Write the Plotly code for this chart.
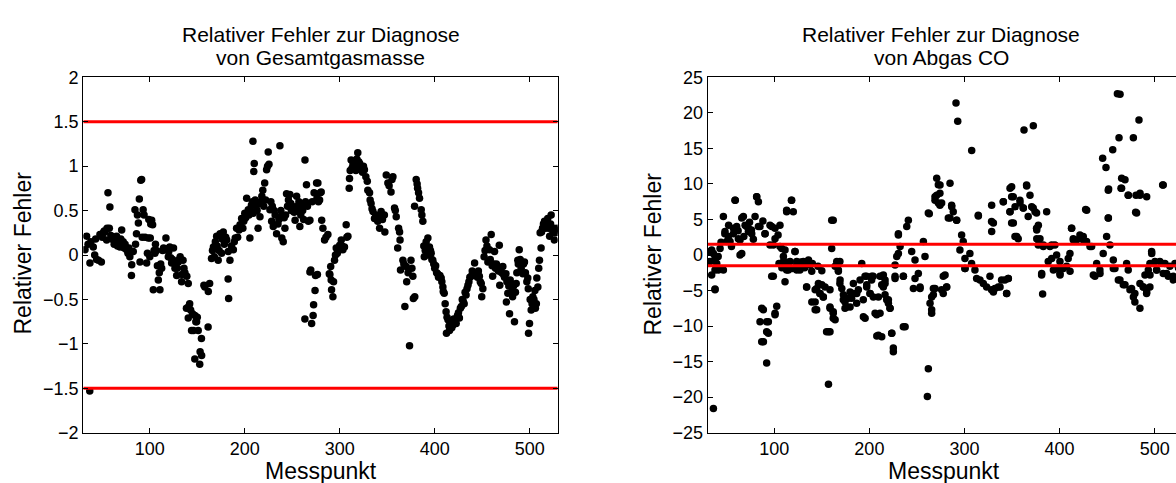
import plotly.graph_objects as go

# ---------------- data ----------------
gesamt_points = [
 (31.8,0.06),(33.5,0.21),(35,0.12),(36.8,-1.53),(37,-0.09),(38,0.15),(40.5,0.09),(42,0),(43,0.18),(44,-0.05),
 (46,-0.06),(47.5,0.23),(49,-0.08),(50,0.2),(51,0.25),(52,0.27),(53,0.26),(54.6,0.17),(55,0.3),(56,0.7),
 (57.4,0.3),(58,0.54),(59,0.22),(60,0.2),(61.6,0.17),(62.5,0.12),(63,0.2),(64,0.15),(65,0.21),(66,0.1),
 (67,0.14),(68.6,0.09),(69.5,0.18),(70.4,0.28),(71,0.12),(72,0.15),(73,0.08),(74,0.12),(75.6,0.06),(77,0.02),
 (78,0.08),(79,-0.02),(80.7,-0.23),(81,-0.11),(82.6,0.04),(84.4,0.51),(85,0.12),(86,0.24),(87,0.45),(88,0.36),
 (89,0.63),(89.7,-0.08),(90.5,0.84),(91.4,0.85),(92,0.2),(93,0.51),(94,0.45),(95,0.2),(96.7,-0.09),(97.5,0.02),
 (98.4,0.19),(99,0.4),(100,-0.02),(100.5,0.19),(101,0.35),(102,0.39),(103,0.34),(103.7,-0.39),(104.5,0.05),(105.4,0.02),
 (106,0.12),(107,0.05),(108,-0.12),(109,-0.28),(110,-0.2),(110.7,-0.39),(111.5,-0.1),(112.5,-0.15),(113.5,0.05),(114.5,0.08),
 (116,0.06),(117,0.19),(118,0.07),(119.5,-0.02),(120,0.04),(121,0.09),(122,-0.03),(123,-0.09),(124,-0.05),(125,0.08),
 (126.5,-0.15),(127,-0.1),(128.3,-0.23),(129,-0.15),(130,-0.08),(131,-0.05),(132,-0.02),(133.5,-0.3),(134,-0.22),(135,-0.06),
 (136,-0.15),(137,-0.2),(138.6,-0.6),(139,-0.24),(140.5,-0.32),(140.5,-0.71),(141,-0.58),(142,-0.55),(143,-0.62),(144,-0.85),
 (145,-0.66),(146,-0.85),(147.4,-1.17),(147.5,-0.68),(148.5,-0.75),(149.3,-0.75),(150,-0.7),(151,-0.85),(152.6,-1.23),(153,-1.09),
 (154.4,-0.94),(154.6,-1.13),(157,-0.34),(158,-0.36),(161.4,-0.81),(161.6,-0.41),(163,-0.32),(165,-0.04),(166,0.05),(167,0.09),
 (168,-0.02),(169,0.15),(170.4,0.21),(171,0.1),(172,-0.06),(173,0.05),(174,0.24),(175.6,0.02),(176,0.18),(177.4,0.26),
 (178.5,0.12),(180,0.2),(181,0.17),(182.5,-0.27),(182.6,0.04),(183,-0.49),(184.4,-0.06),(186,0.1),(188,0.06),(189,0.15),
 (190,0.19),(191.4,0.3),(192.5,0.2),(194,0.28),(195,0.34),(196.7,0.41),(198,0.3),(199,0.38),(200,0.47),(201,0.42),
 (202,0.64),(203.7,0.51),(204.5,0.45),(205.4,0.19),(206,0.5),(207,0.56),(208,0.6),(208.6,1.28),(209,0.47),(209.5,0.94),
 (210,1.03),(211,0.62),(212,0.55),(213,0.5),(214,0.3),(215,0.58),(216,0.43),(217,0.6),(218,0.66),(219,0.73),
 (220,0.55),(221,0.81),(222,0.62),(223,0.96),(224,1.0),(224.7,1.16),(225.5,1.02),(226.5,0.51),(227.5,0.6),(228.3,0.38),
 (229,0.55),(230,0.32),(231,0.5),(232,0.45),(233.5,0.24),(235,0.35),(236,0.4),(237,1.23),(237.5,0.43),(238,0.5),
 (239,0.19),(240.5,0.15),(241.5,0.42),(242.3,0.3),(243,0.45),(244,0.69),(245,0.55),(246,0.62),(247.5,0.68),(248.5,0.58),
 (249,0.5),(250,0.55),(251,0.53),(252,0.48),(253,0.39),(254.6,0.66),(255.5,0.55),(256.3,0.49),(257,0.6),(258,0.32),
 (259,0.45),(260,0.55),(261,0.5),(262,0.4),(263.4,1.07),(263.3,-0.72),(264,0.6),(265,0.79),(266,0.55),(267,0.38),
 (268.6,0.39),(268.6,-0.19),(269.5,-0.17),(270.4,-0.77),(271,0.6),(272,-0.68),(272.5,-0.56),(273,0.7),(274,-0.4),(274.5,-0.23),
 (275.6,0.81),(276,0.64),(276.5,-0.22),(277,0.81),(277.6,0.6),(278.8,0.62),(279.5,0.7),(280.5,0.71),(281,0.39),(282.3,0.3),
 (284,0.17),(285.5,0.2),(287.5,0.23),(289,-0.21),(289.6,-0.22),(290.5,-0.13),(291,-0.28),(291.4,-0.39),(292.8,-0.47),(293.5,-0.3),
 (294.5,-0.06),(295.5,0.0),(296.3,0.08),(297.5,0.02),(298.5,0.05),(300,0.11),(301.6,0.17),(302.5,0.1),(303.3,0.06),(305,0.09),
 (306.8,0.34),(307.5,0.2),(308.6,0.21),(310,0.75),(310.3,0.86),(311,0.95),(312,1.07),(313,0.98),(314,1.02),(315.6,1.0),
 (317,0.95),(318,1.08),(319,1.15),(320,1.05),(321,1.03),(322.6,0.98),(324,0.93),(325,1.0),(326,0.96),(327.5,0.88),
 (329,0.83),(329.6,0.73),(331.4,0.7),(332,0.62),(333,0.58),(334,0.52),(335,0.49),(336.6,0.41),(338,0.45),(340,0.38),
 (341,0.42),(342,0.3),(343.6,0.49),(345,0.4),(347,0.45),(347.5,0.26),(349,0.9),(350.7,0.81),(352,0.78),(354,0.71),
 (355,0.85),(356,0.88),(357.7,0.53),(358.5,0.5),(359.5,0.43),(361,0.08),(362,0.3),(363,0.26),(363.5,0.17),(364,-0.17),
 (366.5,-0.06),(367.5,-0.1),(368.6,-0.58),(370,-0.13),(370.5,-0.3),(372,-0.2),(373.5,-1.02),(375,-0.06),(376,-0.15),(377,-0.24),
 (377.5,-0.49),(378.8,0.55),(379,-0.47),(380.5,0.85),(381.5,0.8),(382,0.75),(383,0.7),(384,0.64),(385.8,0.51),(386.5,0.45),
 (387.5,0.38),(388.5,0.1),(389,-0.02),(390,0.05),(391,0.15),(392.8,0.19),(393,0.0),(394.5,0.09),(395.5,0.05),(396.3,0.02),
 (397,-0.05),(398,-0.06),(399,-0.1),(400,-0.15),(401,-0.12),(402,-0.2),(403,-0.21),(404,-0.25),(405.5,-0.23),(406.8,-0.26),
 (407.5,-0.3),(408.6,-0.36),(409,-0.41),(410,-0.43),(411,-0.55),(412,-0.64),(412.4,-0.88),(413,-0.7),(414,-0.73),(415,-0.8),
 (415.6,-0.85),(417,-0.78),(418,-0.82),(419,-0.79),(420,-0.72),(421,-0.75),(422.6,-0.77),(424,-0.68),(425,-0.65),(426,-0.71),
 (427,-0.6),(428,-0.58),(429,-0.5),(430,-0.52),(431,-0.55),(432,-0.42),(433,-0.45),(434,-0.38),(435,-0.34),(436,-0.3),
 (437,-0.25),(438.4,-0.24),(439.5,-0.18),(440.5,-0.2),(442,-0.09),(443.7,-0.21),(445,-0.25),(446,-0.18),(447,-0.24),(448,-0.3),
 (449,-0.32),(449.5,-0.47),(450.7,-0.38),(452,-0.02),(453,0.05),(454,0.17),(455,0.1),(456,-0.08),(457.7,0.06),(458.5,-0.05),
 (459.5,0.23),(460.5,-0.12),(461,-0.24),(462,-0.1),(463,0.04),(464,-0.15),(465,-0.1),(466.5,-0.13),(467,-0.18),(468,0.11),
 (468.5,-0.34),(469.5,-0.18),(470.5,-0.2),(471.7,-0.13),(472.5,-0.22),(473.5,-0.25),(475,-0.21),(475.5,-0.53),(476,-0.3),(477,-0.43),
 (478,-0.35),(478.8,-0.66),(479.5,-0.28),(480.5,-0.32),(481.5,-0.4),(482,-0.47),(483,-0.35),(484,-0.75),(485,-0.42),(485.8,-0.32),
 (486.5,-0.2),(487.5,-0.06),(488,-0.1),(489,0.06),(490,-0.05),(491,-0.15),(492.8,-0.21),(493.5,-0.1),(494.5,-0.08),(495.5,-0.2),
 (497,-0.3),(498,-0.26),(498.5,-0.38),(498.8,-0.88),(499.8,-0.77),(500.5,-0.5),(501.6,-0.62),(502.5,-0.55),(503.3,-0.47),(504.5,-0.5),
 (505.5,-0.4),(506,-0.6),(507,-0.55),(507.5,-0.26),(508.6,-0.36),(509.5,-0.15),(510.3,-0.06),(511,0.25),(512,0.08),(512.5,0.26),
 (513.5,0.3),(514.5,0.35),(515.6,0.38),(516.5,0.3),(517.5,0.33),(519,0.41),(520,0.3),(521,0.21),(522,0.35),(522.6,0.45),
 (523.5,0.3),(524.4,0.26),(525.5,0.3),(526,0.17),(527,0.25),(528,0.28),(529,0.3),
]

co_points = [
 (32.5,0.5),(36,0.2),(37.7,-0.7),(43,0.9),(41,-0.2),(46.5,5.4),(48,3.0),(51.7,2.6),(50,1.9),(55,1.2),
 (57,3.0),(59,7.7),(60.5,4.0),(64,2.1),(65.8,0.2),(67.5,5.4),(71,4.0),(72.8,3.3),(76,3.5),(79.8,5.4),
 (81.5,8.2),(83.3,7.5),(85,4.0),(90.3,3.0),(95.5,4.2),(99,1.4),(100.8,3.75),(106,4.2),(113,6.3),(118,7.7),
 (120,6.1),(107.8,0.9),(109.6,-0.2),(116.6,-0.9),(121.8,0.5),(123.6,-1.4),(130.6,-0.9),(136,-0.7),(137.8,-1.4),(162,4.9),
 (160.4,0.9),(164,-1.6),(169,-0.9),(192,-1.2),(197,-3.0),(204,-3.0),(214.7,-2.8),(227,-1.4),(230.5,2.8),(230.5,0.2),
 (36,-21.6),(37.7,-4.9),(34.2,-2.8),(37.7,-2.1),(46.5,-2.1),(39.5,-1.2),(85,-9.4),(86.8,-7.5),(88.6,-12.2),(92,-10.8),
 (93.8,-9.4),(92,-15.2),(97.3,-3.0),(100.8,-8.2),(102.6,-7.2),(111.3,-3.75),(113,-2.1),(123.6,-2.1),(134,-4.5),(139.5,-6.6),
 (143,-7.7),(144.6,-4.7),(148,-5.4),(150,-4.2),(151.6,-5.9),(155,-10.8),(158.6,-10.8),(157,-18.2),(158.6,-7.5),(162,-8.2),
 (164,-9.1),(167.4,-2.3),(169,-4.0),(172.6,-6.3),(174.4,-7.5),(178,-6.1),(179.7,-7.3),(183,-5.4),(186.6,-6.8),(188.4,-4.9),
 (193.6,-6.3),(195.5,-8.9),(197.2,-4.2),(200.7,-5.4),(202.4,-3.0),(206,-8.2),(207.8,-11.4),(209.5,-5.9),(211.2,-3.0),(214.7,-4.5),
 (216.5,-3.5),(218.2,-6.3),(221.7,-7.5),(223.5,-11.0),(225.2,-13.6),(227,-3.3),
 (34.2,0.7),(32.5,-0.9),(37.7,-0.2),(41.2,-2.1),(37.7,-4.8),(48.2,3.3),(53.5,1.9),(57,3.75),(58.7,7.7),(62.2,2.3),
 (64,0),(65.8,5.2),(69.3,4.2),(72.8,3.75),(76.3,3.0),(81.5,8.2),(83.3,4.0),(88.5,-7.7),(86.8,-12.2),(92,-9.4),
 (93.8,-11),(90.3,3.0),(95.5,1.4),(97.3,4.0),(99,-3.0),(100.8,-8.4),(100.8,2.3),(106,1.2),(109.6,-0.9),(111.3,0.7),
 (113,6.1),(114.8,-2.1),(118.3,7.7),(121.8,0.5),(123.6,-0.9),(127,-2.1),(130.6,-1.2),(135.9,-0.9),(139.4,-2.3),(134,-4.5),
 (143,-4.9),(146.4,-4.0),(148.1,-5.4),(151.6,-5.9),(143,-6.6),(144.6,-7.7),(153.4,-4.5),(158.6,-4.9),(160.4,4.9),(158.6,-7.3),
 (162,-8.0),(162,-8.9),(157,-10.8),(165.7,-0.9),(167.4,-2.1),(169.2,-3.5),(171,-4.7),(172.7,-5.6),(174.4,-6.6),(176.2,-7.3),
 (179.7,-5.2),(181.4,-6.1),(183.2,-4.0),(186.7,-5.4),(190.2,-3.5),(193.7,-8.7),(195.4,-3.0),(197.2,-4.5),(200.7,-5.4),(202.4,-3.5),
 (204.2,-5.9),(207.7,-8.4),(209.5,-11.3),(213,-3.0),(216.5,-4.0),(220,-6.3),(223.5,-11),(225.2,-13.1),(227,-3.0),(228.8,-0.2),
 (230.5,3.0),(232.3,1.2),(235.8,-3.0),(237.6,-10.1),(239.3,4.0),(241,4.9),(244.5,0.5),(248,-0.7),(251.5,-2.6),(253.3,-4.5),
 (256.8,1.9),(258.5,-0.2),(262,5.9),(265.5,-5.9),(265.5,-7.7),(267.3,-4.7),(269,7.7),(270.8,8.4),(272.5,9.9),(276,7.3),
 (276,-4.9),
 (105,-1.2),(108,-1.8),(112,-1.0),(115,-1.5),(119,-1.9),(126,-1.5),(128,-1.0),(132,-1.8),(140,-1.2),(146,-1.6),
 (150,-2.2),(166,-1.3),(44,1.8),(52,4.2),(62,3.4),(68,2.6),(74,4.6),(78,2.2),(88,4.8),(104,2.8),
 (291.1,21.4),(292.9,18.8),(307.6,14.7),(270.8,10.8),(274.3,9.85),(284.8,10.1),(269,8.2),(272.5,7.3),(263,5.8),(286.6,6.8),
 (284.8,5.2),(291.8,4.9),(297,2.8),(314.6,5.5),(328.6,7.0),(330.4,4.5),(328.6,3.3),(340.9,7.5),(347.9,9.4),(349.6,8.2),
 (347.9,6.1),(353.2,6.8),(358.4,7.3),(361.9,6.6),(365.4,9.7),(368.9,8.4),(370.7,6.8),(374.2,6.1),(362.6,17.6),(372.4,18.2),
 (351.4,4.5),(354.9,2.6),(376,3.5),(377.7,4.2),(386.4,6.1),(376,2.3),(383,1.4),(391.7,1.4),(412.7,3.75),(414.5,2.1),
 (425,2.1),(428.5,6.3),(432,1.2),(445.3,13.6),(448.8,12.3),(451.6,9.3),(451.3,5.2),(449.5,2.6),(455.9,14.8),(460.8,22.7),
 (463.6,22.6),(462.5,16.5),(465.3,10.8),(468.8,10.6),(464.6,9.4),(472.3,8.4),(477.6,16.5),(483.5,19.0),(480.4,8.4),(484.6,8.7),
 (491.6,8.2),(480,6.0),(508.4,9.85),(496.9,0.2),
 (274.2,8.7),(274.2,7.0),(286.5,7.0),(288.2,6.1),(283,5.2),(291.7,4.9),(298.7,1.9),(295.2,0.7),(300.5,-0.5),(305.7,0.2),
 (300.5,-1.9),(307.5,-1.2),(311,-2.1),(312.8,-3.3),(316.3,-3.5),(319.8,-4.0),(323.3,-4.5),(326.8,-3.0),(328.5,-4.9),(332,-4.7),
 (335.5,-4.5),(339,-3.5),(342.5,-3.5),(346,-3.3),(344.3,-5.4),(277.7,-3.0),(281.2,-4.5),(277.7,-5.4),(314.5,5.6),(328.5,4.7),
 (340.8,7.5),(349.6,9.6),(347.8,6.1),(349.6,4.5),(353.1,2.6),(356.5,2.3),(351.3,8.2),(358.3,7.7),(365.3,9.85),(361.8,6.6),
 (367,5.4),(372.3,6.6),(375.8,5.9),(375.8,3.75),(379.4,2.3),(377.6,1.4),(382.9,1.2),(389.9,1.2),(395.1,1.4),(388.1,-0.9),
 (391.7,-0.5),(396.9,0),(400.4,-0.9),(403.9,-1.9),(407.4,-1.6),(409.1,-0.5),(410.9,0.2),(412.6,3.75),(414.4,2.3),(417.9,2.1),
 (421.4,2.8),(424.9,2.6),(428.4,1.9),(433.7,1.2),(396.9,-1.9),(400.4,-2.6),(381.1,-2.8),(382.2,-5.5),(427.4,6.4),(439,-1.2),
 (442.4,-2.1),(437.2,-3.0),(445.9,0.2),(451.2,5.2),(451.2,9.1),(453,1.4),(456.5,-0.7),(458.2,-1.9),(465.2,9.4),(472.2,8.4),
 (481,5.9),(484.5,8.4),(509,9.85),(463.5,-3.5),(467,-4.2),(470.5,-1.2),(472.2,-2.1),(475.7,-4.7),(479.2,-5.4),(479.2,-6.6),
 (484.5,-7.5),(484.5,-4.0),(488,-4.5),(491.5,-5.4),(495,-4.5),(489.8,-2.8),(493.3,-2.1),(496.8,0.5),(495,-1.2),(500.3,-0.9),
 (505.5,-0.9),(510.8,-1.2),(516,-1.6),(519.6,-3.0),(521.3,-1.2),(502,-2.1),(509,-2.6),(514.3,-3.0),
 (211.2,-8.2),(213,-11.5),(235.7,-10.1),(220,-6.8),(216.5,-5.6),(213,-4.2),(221.7,-7.5),(235.7,-3.0),(246.3,-4.7),(248,-3.3),
 (253.3,-4.7),(262,-16),(261,-19.9),(263.8,-6.8),(265.5,-8.2),(267.3,-5.6),(269,-4.7),(281.3,-4.5),(279.6,-2.8),(300.6,-1.9),
 (330.4,-5.2),(337.4,-4.5),(344.4,-5.4),(346.1,-3.3),(381.2,-2.6),(393.5,-2.1),(400.5,-2.8),(411,-2.3),(435.5,-2.8),(442.5,-2.6),
 (456.5,-1.9),(461.8,-3.5),(468.8,-4.2),(474,-4.9),(477.6,-5.9),(488.1,-4.5),(491.6,-5.2),(495.1,-2.8),(502.1,-2.1),(512.6,-2.6),
 (519.6,-3.5),(525,-1.8),(527,-2.5),(528.5,-1.0),
]

x_gesamt = [p[0] for p in gesamt_points]
y_gesamt = [p[1] for p in gesamt_points]
x_co = [p[0] for p in co_points]
y_co = [p[1] for p in co_points]

thresholds = [1.5, -1.5]
x_span = [30, 529.5]
x_ticks = [100, 200, 300, 400, 500]
y_ticks_gesamt = [-2, -1.5, -1, -0.5, 0, 0.5, 1, 1.5, 2]
y_ticks_co = [-25, -20, -15, -10, -5, 0, 5, 10, 15, 20, 25]

title_line1 = "Relativer Fehler zur Diagnose"
title_line2 = ["von Gesamtgasmasse", "von Abgas CO"]
x_label = "Messpunkt"
y_label = "Relativer Fehler"

# ---------------- figure ----------------
W, H = 1176, 483
FONT = "Liberation Sans, Arial, sans-serif"

fig = go.Figure()
fig.add_trace(go.Scatter(x=x_gesamt, y=y_gesamt, mode="markers",
                         marker=dict(color="black", size=7.5, line=dict(width=0)),
                         xaxis="x", yaxis="y", showlegend=False, hoverinfo="skip"))
for t in thresholds:
    fig.add_trace(go.Scatter(x=x_span, y=[t, t], mode="lines",
                             line=dict(color="#ff0000", width=3),
                             xaxis="x", yaxis="y", showlegend=False, hoverinfo="skip"))
fig.add_trace(go.Scatter(x=x_co, y=y_co, mode="markers",
                         marker=dict(color="black", size=7.5, line=dict(width=0)),
                         xaxis="x2", yaxis="y2", showlegend=False, hoverinfo="skip"))
for t in thresholds:
    fig.add_trace(go.Scatter(x=x_span, y=[t, t], mode="lines",
                             line=dict(color="#ff0000", width=3),
                             xaxis="x2", yaxis="y2", showlegend=False, hoverinfo="skip"))

ydom = [1 - 432.7 / H, 1 - 77.3 / H]
axis_common = dict(showline=True, linecolor="black", linewidth=1.2, ticks="inside",
                   ticklen=5, tickcolor="black", tickwidth=1, showgrid=False, zeroline=False,
                   automargin=False,
                   tickfont=dict(family=FONT, size=18, color="black"))

fig.update_layout(
    width=W, height=H, autosize=False,
    margin=dict(l=0, r=0, t=0, b=0, pad=0, autoexpand=False),
    paper_bgcolor="white", plot_bgcolor="white",
    xaxis=dict(domain=[83.3 / W, 557.7 / W], range=x_span, tickvals=x_ticks,
               anchor="y", mirror="ticks", **axis_common),
    yaxis=dict(domain=ydom, range=[-2, 2], tickvals=y_ticks_gesamt,
               anchor="x", mirror="ticks", **axis_common),
    xaxis2=dict(domain=[707.7 / W, 1.0], range=[30, 30 + (W - 707.7) / 0.951], tickvals=x_ticks,
                anchor="y2", mirror="ticks", **axis_common),
    yaxis2=dict(domain=ydom, range=[-25, 25], tickvals=y_ticks_co,
                anchor="x2", mirror=False, **axis_common),
)

title_font = dict(family=FONT, size=21, color="black")
label_font = dict(family=FONT, size=23, color="black")


def ann(text, xpx, ypx, font, angle=0):
    return dict(text=text, x=xpx / W, y=1 - ypx / H, xref="paper", yref="paper",
                xanchor="center", yanchor="middle", textangle=angle,
                showarrow=False, font=font)


annotations = [
    ann(title_line1, 320.5, 35, title_font),
    ann(title_line2[0], 320.5, 57, title_font),
    ann(title_line1, 941, 35, title_font),
    ann(title_line2[1], 941, 57, title_font),
    ann(x_label, 320.5, 471, label_font),
    ann(x_label, 944, 471, label_font),
    ann(y_label, 22, 253.5, label_font, -90),
    ann(y_label, 652, 253.5, label_font, -90),
]
fig.update_layout(annotations=annotations)

fig.write_html("out.html")
